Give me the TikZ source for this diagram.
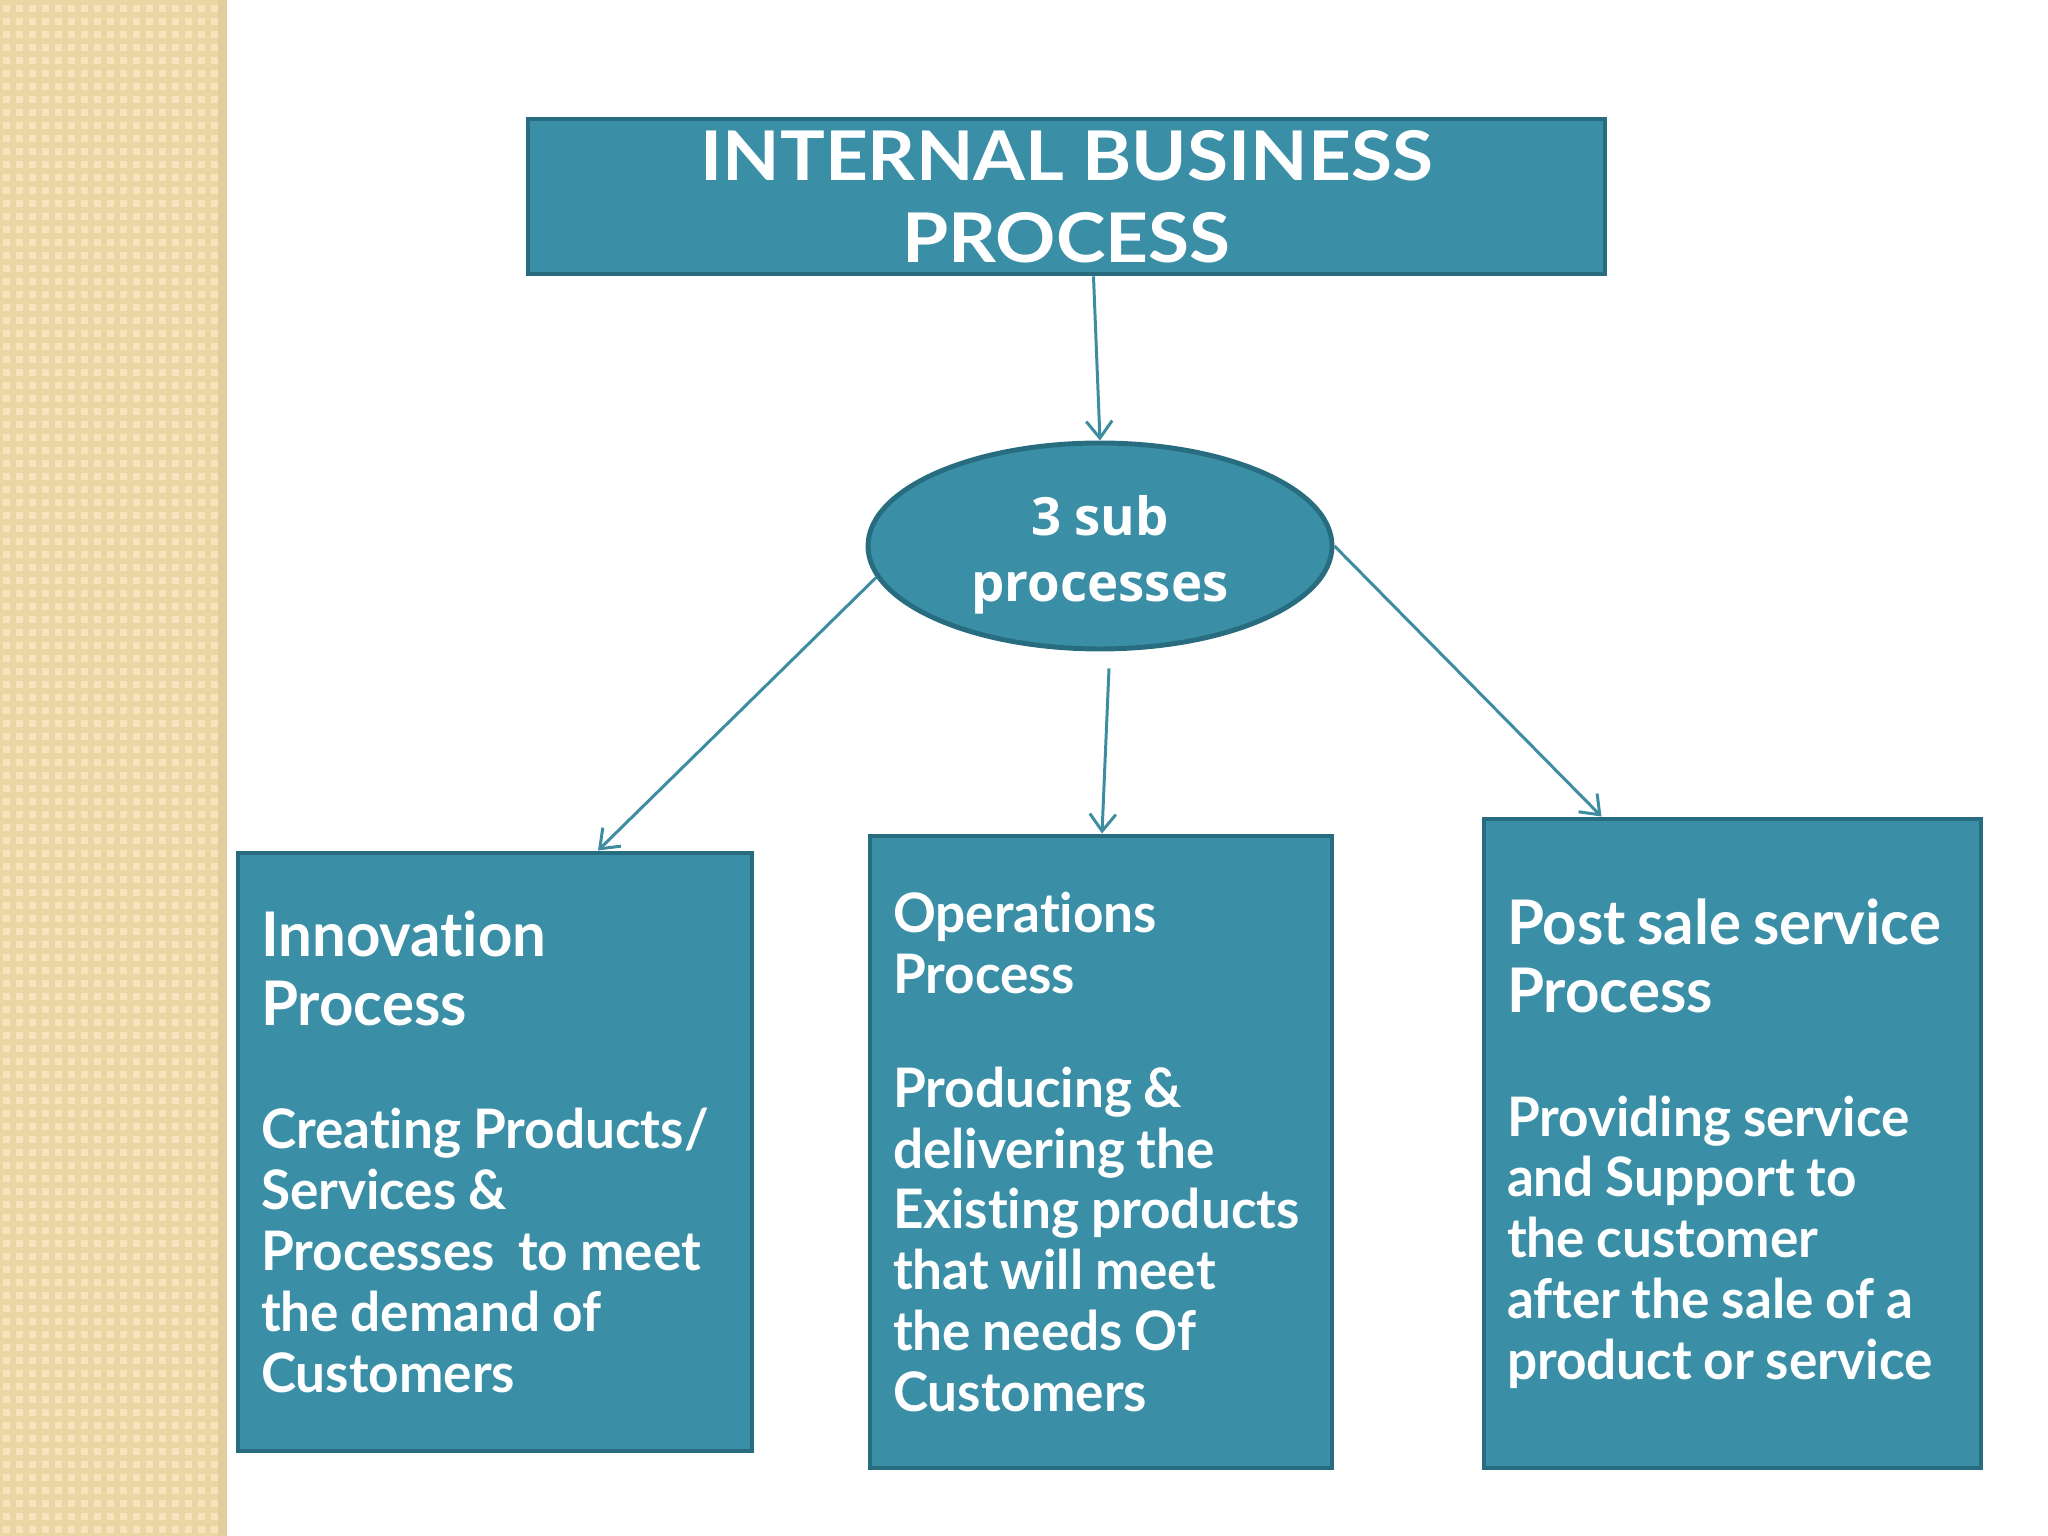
\documentclass[tikz,border=0pt]{standalone}
\usepackage{fontspec}
\setmainfont{Lato}[Ligatures=NoCommon, FakeStretch=0.975]
\newfontfamily\titlefont{Lato}[Ligatures=NoCommon, FakeStretch=1.09]
\newfontfamily\ovalfont{Open Sans}
\usetikzlibrary{shapes.geometric,arrows.meta,positioning}
\definecolor{tealfill}{RGB}{58,143,166}
\definecolor{tealedge}{RGB}{40,108,128}
\definecolor{linkteal}{RGB}{62,140,160}
\definecolor{stripbg}{RGB}{245,228,188}
\definecolor{stripdot}{RGB}{236,213,165}
\definecolor{stripedge}{RGB}{226,206,156}
\newcommand{\headsize}{\fontsize{17.5}{19.4}\selectfont}
\newcommand{\bodysize}{\fontsize{15.5}{17.3}\selectfont}
\hyphenpenalty=10000
\exhyphenpenalty=10000

\begin{document}
\begin{tikzpicture} [
    inner sep = 0,
    every node/.style = {text = white, font = \bfseries},
    procbox/.style = {draw = tealedge, fill = tealfill, line width = 1.4pt, rectangle},
    subbox/.style = {procbox, align = left, inner xsep = 0.23cm},
    link/.style = {draw = linkteal, line width = 0.85pt, -{Straight Barb[length=0.17cm, width=0.26cm]}}
    ]
  \useasboundingbox (0,0) rectangle (20.48,15.36);

  % side strip
  \fill[stripbg] (0,0) rectangle (2.27,15.36);
  \draw[stripdot, line width = 1.6pt, step = 0.13] (0,0) grid (2.18,15.36);
  \fill[stripedge] (2.18,0) rectangle (2.27,15.36);

  \node[procbox, minimum width = 10.77cm, minimum height = 1.55cm, align = center,
        font = \titlefont\bfseries\fontsize{19.5}{23.3}\selectfont] (title) at (10.665,13.395)
        {INTERNAL BUSINESS\\PROCESS};
  \node[procbox, ellipse, minimum width = 4.64cm, minimum height = 2.06cm, align = center,
        font = \ovalfont\bfseries\fontsize{15}{18.7}\selectfont] (sub) at (11.00,9.90)
        {\rule{0pt}{0.57cm}3 sub\\processes};

  \node[subbox, text width = 4.68cm, minimum height = 5.98cm] (innov) at (4.95,3.84)
        {{\headsize Innovation\\Process\par}\vspace{0.63cm}
         {\bodysize Creating Products/\\Services \&\\Processes\ \ to meet\\the demand of\\Customers\par}};
  \node[subbox, text width = 4.16cm, minimum height = 6.32cm] (oper) at (11.01,3.84)
        {{\bodysize Operations\\Process\par}\vspace{0.53cm}
         {\bodysize Producing \&\\delivering the\\\mbox{Existing products}\\that will meet\\the needs Of\\Customers\par}};
  \node[subbox, text width = 4.51cm, minimum height = 6.49cm] (post) at (17.325,3.925)
        {{\headsize Post sale service\\Process\par}\vspace{0.63cm}
         {\bodysize Providing service\\and Support to\\the customer\\after the sale of a\\product or service\par}};

  \draw[link] ([xshift = 0.27cm]title.south) -- (sub.north);
  \draw[link] (sub.188) -- ([xshift = 1.03cm]innov.north);
  \draw[link] ([xshift = 0.09cm, yshift = -0.17cm]sub.south) -- ([xshift = 0.01cm]oper.north);
  \draw[link] (sub.east) -- ([xshift = -1.31cm]post.north);
\end{tikzpicture}
\end{document}
